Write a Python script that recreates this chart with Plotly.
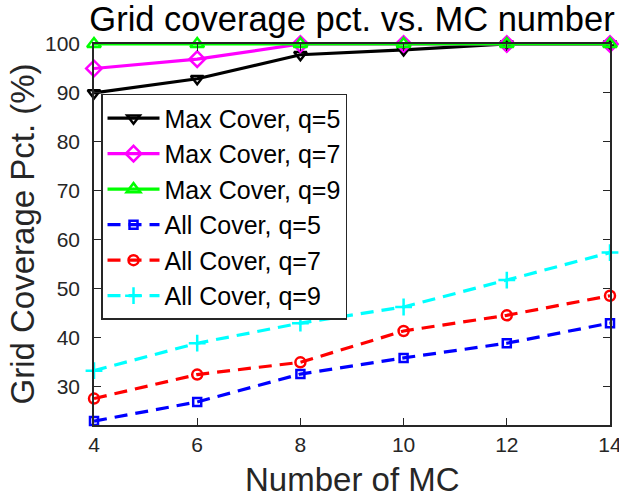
import plotly.graph_objects as go

mc = [4, 6, 8, 10, 12, 14]

max_q5 = [90, 92.9, 97.8, 98.8, 100, 100]
max_q7 = [95, 96.9, 100, 100, 100, 100]
max_q9 = [100, 100, 100, 100, 100, 100]
all_q5 = [23.0, 26.9, 32.6, 35.9, 38.9, 43.0]
all_q7 = [27.6, 32.5, 35.0, 41.4, 44.6, 48.6]
all_q9 = [33.3, 38.9, 43.0, 46.3, 51.8, 57.4]

names = ["Max Cover, q=5", "Max Cover, q=7", "Max Cover, q=9",
         "All Cover, q=5", "All Cover, q=7", "All Cover, q=9"]
x_ticks = [4, 6, 8, 10, 12, 14]
y_ticks = [30, 40, 50, 60, 70, 80, 90, 100]

AX = "#262626"
FONT = "Liberation Sans, Arial, Helvetica, sans-serif"

series = [
    (max_q5, "#000000", "triangle-down-open", 11, "solid", 3.2),
    (max_q7, "#FF00FF", "diamond-open", 12, "solid", 3.2),
    (max_q9, "#00FF00", "triangle-up-open", 12, "solid", 3.2),
    (all_q5, "#0000FF", "square-open", 8, "13px,8px", 3.2),
    (all_q7, "#FF0000", "circle-open", 10, "13px,8px", 3.2),
    (all_q9, "#00FFFF", "cross-thin-open", 12, "13px,8px", 3.2),
]

fig = go.Figure()
for name, (vals, col, sym, sz, dash, w) in zip(names, series):
    fig.add_trace(go.Scatter(
        x=mc, y=vals, name=name, mode="lines+markers",
        line=dict(color=col, width=w, dash=dash),
        marker=dict(symbol=sym, size=sz, color=col,
                    line=dict(color=col, width=2.5)),
        cliponaxis=False,
    ))

fig.update_layout(
    width=619, height=501,
    margin=dict(l=94, r=9, t=44, b=76, autoexpand=False),
    paper_bgcolor="white", plot_bgcolor="white",
    font=dict(family=FONT, color=AX),
    showlegend=True,
    legend=dict(x=0.0136, y=0.869, xanchor="left", yanchor="top",
                bgcolor="white", bordercolor=AX, borderwidth=1.5,
                font=dict(size=25, color="#000000", family=FONT),
                itemwidth=52, tracegroupgap=0),
    title=dict(text="Grid coverage pct. vs. MC number",
               font=dict(size=34.5, color="#000000", family=FONT),
               x=0.5, xref="paper", xanchor="center",
               y=1 - 19 / 501, yref="container", yanchor="middle"),
)

fig.update_xaxes(
    range=[4, 14], tickvals=x_ticks, ticktext=[str(v) for v in x_ticks],
    showgrid=False, zeroline=False, automargin=False,
    showline=True, linecolor=AX, linewidth=1.5, mirror="ticks",
    ticks="inside", ticklen=7, tickwidth=1.2, tickcolor=AX,
    tickfont=dict(size=21, color=AX, family=FONT),
    ticklabelstandoff=0, ticklabeloverflow="allow",
)
fig.update_yaxes(
    range=[22.2, 100], tickvals=y_ticks, ticktext=[str(v) for v in y_ticks],
    showgrid=False, zeroline=False, automargin=False,
    showline=True, linecolor=AX, linewidth=1.5, mirror="ticks",
    ticks="inside", ticklen=7, tickwidth=1.2, tickcolor=AX,
    tickfont=dict(size=21, color=AX, family=FONT),
    ticklabelstandoff=8, ticklabeloverflow="allow",
)

fig.add_annotation(text="Number of MC", x=0.5, y=0, xref="paper", yref="paper",
                   xanchor="center", yanchor="top", yshift=-34, showarrow=False,
                   font=dict(size=33, color=AX, family=FONT))
fig.add_annotation(text="Grid Coverage Pct. (%)", x=0, y=0.5, xref="paper", yref="paper",
                   xanchor="center", yanchor="middle", xshift=-72, textangle=-90,
                   showarrow=False, font=dict(size=33, color=AX, family=FONT))

fig.write_html("out.html")
